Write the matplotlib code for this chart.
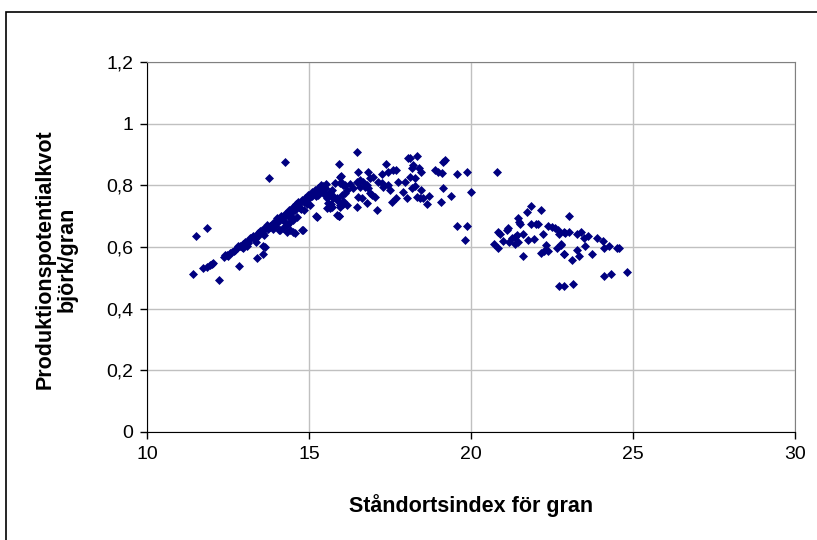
import matplotlib.pyplot as plt
from matplotlib.patches import Rectangle
from matplotlib.ticker import MultipleLocator, FuncFormatter

plt.rcParams['font.family'] = ['Liberation Sans', 'DejaVu Sans']

# Ståndortsindex (x) och produktionspotentialkvot björk/gran (y)
# stigande del, låga SI
si_low = [11.41, 11.52, 11.84, 11.72, 11.84, 11.95, 12.02, 12.05, 12.21, 12.83,
          13.39, 13.57, 13.64, 13.57, 13.75, 14.25]
kv_low = [0.513, 0.636, 0.662, 0.533, 0.536, 0.541, 0.545, 0.547, 0.492, 0.538,
          0.566, 0.577, 0.601, 0.604, 0.823, 0.876]

# tät stigande band 12.3-15.5
si_band = [12.36, 12.46, 12.56, 12.67, 12.77, 12.87, 12.97, 13.08, 13.18, 13.28,
           13.41, 13.54, 13.67, 13.80, 13.90, 14.02, 14.11, 14.21, 14.31, 14.42,
           14.52, 14.62, 14.72, 14.83, 14.93, 15.03, 15.14, 15.24, 15.34, 15.44,
           12.41, 12.51, 12.61, 12.72, 12.80, 12.92, 13.02, 13.12, 13.22, 13.33,
           13.45, 13.48, 13.58, 13.62, 13.72, 13.85, 13.95, 14.05, 14.15, 14.18,
           14.27, 14.35, 14.38, 14.47, 14.56, 14.58, 14.67, 14.70, 14.78, 14.88,
           14.90, 14.98, 15.08, 15.10, 15.18, 15.28, 15.30, 15.38, 15.48, 15.52,
           14.00, 14.60, 15.00, 13.70, 13.10, 13.35, 13.88, 14.25, 14.45, 14.75,
           14.95, 15.20, 12.95, 13.60]
kv_band = [0.567, 0.574, 0.580, 0.588, 0.596, 0.603, 0.610, 0.617, 0.628, 0.636,
           0.647, 0.655, 0.664, 0.668, 0.677, 0.688, 0.693, 0.698, 0.709, 0.718,
           0.729, 0.736, 0.742, 0.747, 0.755, 0.766, 0.774, 0.783, 0.790, 0.798,
           0.575, 0.572, 0.585, 0.590, 0.602, 0.600, 0.615, 0.612, 0.630, 0.625,
           0.640, 0.652, 0.645, 0.660, 0.658, 0.672, 0.668, 0.682, 0.700, 0.690,
           0.708, 0.700, 0.720, 0.715, 0.732, 0.720, 0.745, 0.730, 0.752, 0.760,
           0.745, 0.770, 0.765, 0.780, 0.785, 0.790, 0.778, 0.800, 0.792, 0.805,
           0.695, 0.740, 0.758, 0.670, 0.605, 0.618, 0.660, 0.680, 0.700, 0.725,
           0.740, 0.765, 0.598, 0.640]

# spridning under bandet
si_under = [14.10, 14.31, 14.52, 14.79, 15.22, 15.65, 15.91, 15.96, 15.03, 14.93,
            14.83, 14.72, 14.62, 14.52, 14.42, 14.31, 14.21, 13.80, 14.07, 14.42,
            14.57, 14.81, 15.24, 15.55, 15.67, 15.86]
kv_under = [0.655, 0.650, 0.648, 0.655, 0.701, 0.726, 0.701, 0.736, 0.736, 0.753,
            0.720, 0.726, 0.699, 0.688, 0.682, 0.672, 0.661, 0.666, 0.655, 0.655,
            0.647, 0.655, 0.698, 0.726, 0.740, 0.704]

# toppområdet 15.3-18.3
si_mid = [15.29, 15.39, 15.50, 15.55, 15.65, 15.75, 15.70, 15.60, 15.39, 15.44,
          15.49, 15.55, 15.70, 15.75, 15.85, 15.96, 16.06, 16.11, 15.91, 15.96,
          16.06, 15.93, 15.98,
          15.80, 16.01, 16.11, 16.26, 16.47, 16.57, 16.67, 16.83, 16.88, 16.98,
          17.14, 17.24, 17.39, 17.45, 17.60, 17.70, 17.75, 18.06, 18.11, 18.22,
          15.85, 16.01, 16.06, 16.16, 16.47, 16.52, 16.62, 16.78, 16.93, 17.03,
          17.09, 17.45, 17.50, 17.55, 17.70, 17.91, 18.01, 17.29, 16.73, 16.83,
          16.57, 16.37, 16.16, 17.24, 17.96, 15.95, 16.52, 16.88, 16.78, 16.47]
kv_mid = [0.769, 0.796, 0.790, 0.769, 0.780, 0.758, 0.731, 0.742, 0.796, 0.780,
          0.769, 0.758, 0.785, 0.764, 0.753, 0.731, 0.748, 0.775, 0.701, 0.807,
          0.802, 0.870, 0.831,
          0.807, 0.807, 0.801, 0.803, 0.810, 0.817, 0.812, 0.845, 0.823, 0.828,
          0.812, 0.807, 0.868, 0.845, 0.850, 0.850, 0.812, 0.888, 0.828, 0.866,
          0.758, 0.769, 0.739, 0.785, 0.731, 0.763, 0.758, 0.742, 0.769, 0.763,
          0.720, 0.801, 0.785, 0.747, 0.758, 0.780, 0.758, 0.796, 0.796, 0.790,
          0.796, 0.790, 0.736, 0.837, 0.810, 0.828, 0.842, 0.774, 0.801, 0.909]

# 18-20
si_high = [18.12, 18.33, 18.17, 18.27, 18.38, 18.45, 18.17, 18.27, 18.33, 18.43,
           18.53, 18.63, 18.69, 18.45, 18.89, 18.99, 19.10, 19.15, 19.20, 19.56,
           19.87, 19.13, 19.07, 19.38, 19.99, 19.56, 19.87, 19.81]
kv_high = [0.888, 0.895, 0.855, 0.823, 0.855, 0.845, 0.790, 0.798, 0.763, 0.758,
           0.758, 0.739, 0.766, 0.785, 0.850, 0.845, 0.839, 0.877, 0.882, 0.836,
           0.845, 0.790, 0.745, 0.766, 0.777, 0.668, 0.668, 0.622]

# höga SI, 20.7-24.9
si_top = [20.79, 20.72, 20.84, 20.84, 20.89, 20.98, 21.10, 21.15, 21.17, 21.27,
          21.36, 21.41, 21.36, 21.46, 21.46, 21.49, 21.51, 21.59, 21.59, 21.72,
          21.84, 21.84, 21.77, 21.95, 22.00, 22.08, 22.15, 22.21, 22.33, 22.16,
          22.24, 22.38, 22.38, 22.49, 22.59, 22.69, 22.71, 22.64, 22.78, 22.86,
          22.86, 22.71, 22.88, 23.14,
          22.90, 23.01, 23.03, 22.78, 22.88, 23.13, 23.26, 23.32, 23.26, 23.39,
          23.50, 23.52, 23.62, 23.75, 23.88, 24.06, 24.12, 24.26, 24.50, 24.57,
          24.81, 24.12, 24.31]
kv_top = [0.842, 0.610, 0.596, 0.648, 0.641, 0.621, 0.655, 0.661, 0.615, 0.628,
          0.634, 0.639, 0.610, 0.615, 0.693, 0.682, 0.675, 0.641, 0.571, 0.713,
          0.733, 0.675, 0.622, 0.626, 0.676, 0.674, 0.720, 0.641, 0.607, 0.580,
          0.587, 0.587, 0.669, 0.666, 0.663, 0.655, 0.641, 0.596, 0.607, 0.648,
          0.576, 0.474, 0.474, 0.480,
          0.647, 0.648, 0.701, 0.610, 0.577, 0.558, 0.589, 0.571, 0.641, 0.648,
          0.628, 0.603, 0.636, 0.577, 0.628, 0.621, 0.596, 0.603, 0.596, 0.596,
          0.520, 0.506, 0.514]

si = si_low + si_band + si_under + si_mid + si_high + si_top
kvot = kv_low + kv_band + kv_under + kv_mid + kv_high + kv_top

fig = plt.figure(figsize=(8.17, 5.40), dpi=100)
ax = fig.add_axes([0.180, 0.200, 0.793, 0.685])

ax.scatter(si, kvot, marker='D', s=21, color='#000080', linewidths=0, zorder=3)

ax.set_xlim(10, 30)
ax.set_ylim(0, 1.2)
ax.xaxis.set_major_locator(MultipleLocator(5))
ax.yaxis.set_major_locator(MultipleLocator(0.2))
ax.yaxis.set_major_formatter(FuncFormatter(
    lambda v, pos: ('%g' % round(v, 1)).replace('.', ',')))
ax.grid(True, color='#c0c0c0', linewidth=1, zorder=0)
ax.set_axisbelow(True)
for side in ['top', 'right']:
    ax.spines[side].set_color('#808080')
for side in ['left', 'bottom']:
    ax.spines[side].set_color('black')
ax.tick_params(direction='out', length=5, width=1, labelsize=14, pad=5)

fig.text(471 / 817, 1 - 506 / 540, 'Ståndortsindex för gran', ha='center',
         va='center', fontsize=15.5, fontweight='bold')
fig.text(56 / 817, 1 - 259 / 540, 'Produktionspotentialkvot\nbjörk/gran',
         ha='center', va='center', rotation=90, fontsize=15.5,
         fontweight='bold', linespacing=1.1)

# ram runt diagrammet
fig.patches.append(Rectangle((5.5 / 817, -0.05), 2, 1.05 - 12 / 540,
                             transform=fig.transFigure, fill=False,
                             edgecolor='black', linewidth=1.2))

fig.savefig('out.png', dpi=100)
